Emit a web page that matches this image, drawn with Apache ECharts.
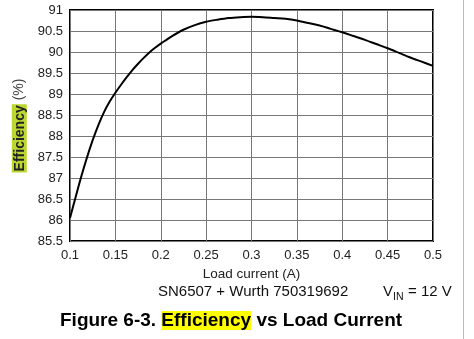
<!DOCTYPE html>
<html><head><meta charset="utf-8">
<script src="https://cdn.jsdelivr.net/npm/echarts@6/dist/echarts.min.js"></script>
<style>html,body{margin:0;padding:0;background:#fff}#c{width:474px;height:339px}</style>
</head><body><div id="c"></div>
<script>
const loadCurrent = [0.1, 0.10625, 0.1125, 0.11875, 0.125, 0.13125, 0.1375, 0.14375, 0.15, 0.15625, 0.1625, 0.16875, 0.175, 0.18125, 0.1875, 0.19375, 0.2, 0.20625, 0.2125, 0.225, 0.2375, 0.25, 0.2625, 0.275, 0.2875, 0.3, 0.3125, 0.325, 0.3375, 0.35, 0.3625, 0.375, 0.3875, 0.4, 0.4125, 0.425, 0.4375, 0.45, 0.4625, 0.475, 0.4875, 0.5];
const efficiency = [86.05, 86.55, 87.04, 87.49, 87.9, 88.26, 88.57, 88.82, 89.03, 89.22, 89.4, 89.57, 89.72, 89.86, 89.99, 90.1, 90.2, 90.29, 90.38, 90.53, 90.64, 90.72, 90.77, 90.81, 90.83, 90.84, 90.83, 90.81, 90.79, 90.75, 90.69, 90.63, 90.55, 90.47, 90.38, 90.29, 90.19, 90.09, 89.98, 89.87, 89.77, 89.67];
const xTicks = ['0.1','0.15','0.2','0.25','0.3','0.35','0.4','0.45','0.5'];
const yTicks = ['85.5','86','86.5','87','87.5','88','88.5','89','89.5','90','90.5','91'];

const FONT = 'Liberation Sans, Arial, sans-serif';
const chart = echarts.init(document.getElementById('c'), null, {renderer:'canvas'});
chart.setOption({
  animation:false,
  backgroundColor:'#fff',
  grid:{left:70, right:41, top:10, bottom:98, show:true, borderColor:'#000', borderWidth:2, containLabel:false},
  xAxis:{type:'value', min:0.1, max:0.5, interval:0.05,
    axisLine:{show:false}, axisTick:{show:false},
    splitLine:{show:true, lineStyle:{color:'#777', width:1}},
    axisLabel:{color:'#222', fontFamily:FONT, fontSize:13, margin:8,
      formatter:v=>{const s=xTicks.find(t=>Math.abs(parseFloat(t)-v)<1e-6);return s||'';}},
    name:'Load current (A)', nameLocation:'middle', nameGap:25,
    nameTextStyle:{color:'#222', fontFamily:FONT, fontSize:13.5}
  },
  yAxis:{type:'value', min:85.5, max:91, interval:0.5,
    axisLine:{show:false}, axisTick:{show:false},
    splitLine:{show:true, lineStyle:{color:'#777', width:1}},
    axisLabel:{color:'#222', fontFamily:FONT, fontSize:13, margin:7,
      formatter:v=>{const s=yTicks.find(t=>Math.abs(parseFloat(t)-v)<1e-6);return s||'';}},
    name:'{hl|Efficiency} (%)', nameLocation:'middle', nameGap:41, nameRotate:90,
    nameTextStyle:{color:'#444', fontFamily:FONT, fontSize:14,
      rich:{hl:{backgroundColor:'#bcd630', color:'#222', fontFamily:FONT, fontSize:14, fontWeight:'bold', padding:[1,1,0,1]}}}
  },
  series:[{type:'line', smooth:0.3, showSymbol:false, symbol:'none',
    lineStyle:{color:'#000', width:2},
    data:loadCurrent.map((x,i)=>[x, efficiency[i]])}],
  graphic:[
    {type:'line', shape:{x1:463.5,y1:0,x2:463.5,y2:339}, style:{stroke:'#bbb', lineWidth:1}},
    {type:'text', left:158, top:284, style:{text:'SN6507 + Wurth 750319692', font:'15px '+FONT, fill:'#111'}},
    {type:'text', left:383, top:284, style:{text:'V', font:'15px '+FONT, fill:'#111'}},
    {type:'text', left:393, top:292, style:{text:'IN', font:'10.5px '+FONT, fill:'#111'}},
    {type:'text', left:408, top:284, style:{text:'= 12 V', font:'15px '+FONT, fill:'#111'}},
    {type:'text', left:60, top:311, style:{
      text:'Figure 6-3. {hl|Efficiency} vs Load Current',
      font:'bold 19px '+FONT, fill:'#000',
      rich:{hl:{backgroundColor:'#ffff00', fontWeight:'bold', fontSize:19, fontFamily:FONT, fill:'#000'}}}}
  ]
});
</script></body></html>
